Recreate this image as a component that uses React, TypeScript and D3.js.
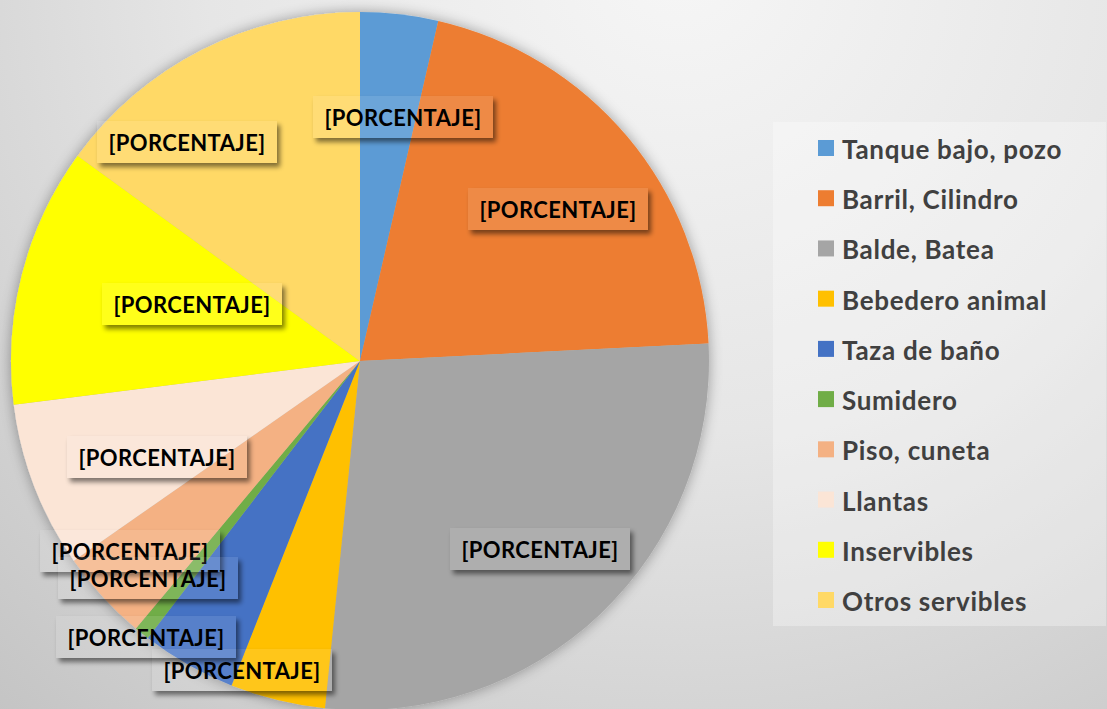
import React from "react";
import * as d3 from "d3";

const categories = [
  "Tanque bajo, pozo",
  "Barril, Cilindro",
  "Balde, Batea",
  "Bebedero animal",
  "Taza de baño",
  "Sumidero",
  "Piso, cuneta",
  "Llantas",
  "Inservibles",
  "Otros servibles",
];
const values = [3.6, 20.6, 27.4, 4.4, 4.4, 0.7, 4.2, 7.7, 12.0, 15.0];
const colors = [
  "#5B9BD5", "#ED7D31", "#A5A5A5", "#FFC000", "#4472C4",
  "#70AD47", "#F4B183", "#FBE5D6", "#FFFF00", "#FFD966",
];
const labelText = "[PORCENTAJE]";
// manual label placements (layout, as moved in the original)
const labelPos: [number, number][] = [
  [403, 117], [558, 209], [540, 549], [242, 670], [146, 637],
  [130, 551], [148, 578], [157, 457], [192, 304], [187, 142],
];

const W = 1107, H = 709;
const cx = 360, cy = 361, R = 349;

export default function App() {
  const pie = d3.pie<number>().sort(null).value((d) => d)(values);
  const arc = d3.arc<d3.PieArcDatum<number>>().innerRadius(0).outerRadius(R);
  const legendY = d3.scaleLinear().domain([0, categories.length - 1]).range([148, 600]);
  const font = "Lato, 'Open Sans', sans-serif";
  const bw = 180, bh = 42;
  return (
    <svg width={W} height={H} style={{ position: "absolute", left: 0, top: 0 }}>
      <defs>
        <radialGradient id="bg" cx="680" cy="-40" r="1050" gradientUnits="userSpaceOnUse">
          <stop offset="0" stopColor="#f6f6f6" />
          <stop offset="0.45" stopColor="#e6e6e6" />
          <stop offset="1" stopColor="#c2c2c2" />
        </radialGradient>
        <filter id="pieShadow" x="-20%" y="-20%" width="140%" height="140%">
          <feGaussianBlur in="SourceAlpha" stdDeviation="7" />
          <feComponentTransfer><feFuncA type="linear" slope="0.35" /></feComponentTransfer>
          <feMerge><feMergeNode /><feMergeNode in="SourceGraphic" /></feMerge>
        </filter>
        <filter id="lblShadow" x="-20%" y="-50%" width="140%" height="220%">
          <feGaussianBlur in="SourceAlpha" stdDeviation="2.5" result="b" />
          <feOffset in="b" dx="3" dy="4" result="o" />
          <feComponentTransfer in="o" result="c"><feFuncA type="linear" slope="0.5" /></feComponentTransfer>
          <feComposite in="c" in2="SourceAlpha" operator="out" />
        </filter>
      </defs>
      <rect x={0} y={0} width={W} height={H} fill="url(#bg)" />
      <g transform={`translate(${cx},${cy})`} filter="url(#pieShadow)">
        {pie.map((p, i) => (
          <path key={i} d={arc(p) || ""} fill={colors[i]} />
        ))}
      </g>
      {pie.map((p, i) => {
        const [x, y] = labelPos[i];
        return (
          <g key={"l" + i}>
            <rect x={x - bw / 2} y={y - bh / 2} width={bw} height={bh}
              fill="#000" filter="url(#lblShadow)" />
            <rect x={x - bw / 2} y={y - bh / 2} width={bw} height={bh}
              fill="#ffffff" fillOpacity={0.1} />
            <text x={x} y={y} textAnchor="middle" dominantBaseline="central"
              fontFamily={font} fontWeight={700} fontSize={22} letterSpacing={0.4} fill="#000">
              {labelText}
            </text>
          </g>
        );
      })}
      <rect x={773} y={122} width={333} height={504} fill="#ffffff" fillOpacity={0.3} />
      {categories.map((c, i) => (
        <g key={"lg" + i} transform={`translate(818,${legendY(i)})`}>
          <rect x={0} y={-8} width={16} height={16} fill={colors[i]} />
          <text x={24} y={1} dominantBaseline="central" fontFamily={font}
            fontWeight={700} fontSize={26} letterSpacing={0.7} fill="#404040">{c}</text>
        </g>
      ))}
    </svg>
  );
}
